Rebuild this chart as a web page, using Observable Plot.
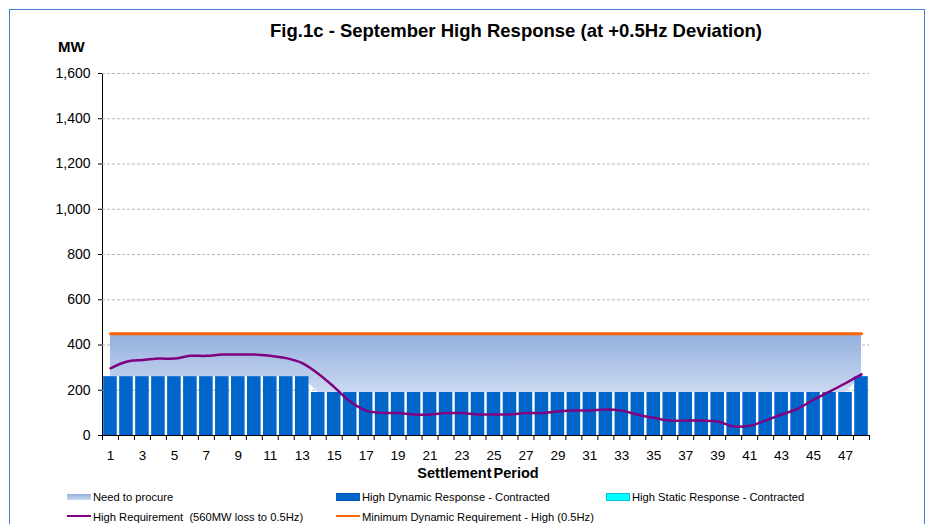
<!DOCTYPE html>
<html><head><meta charset="utf-8">
<script src="https://cdn.jsdelivr.net/npm/d3@7"></script>
<script src="https://cdn.jsdelivr.net/npm/@observablehq/plot@0.6"></script>
<style>
body{margin:0;background:#fff;font-family:"Liberation Sans",Arial,sans-serif;}
#wrap{position:relative;width:932px;height:524px;overflow:hidden;background:#fff;}
#wrap svg{position:absolute;left:0;top:0;}
#border{position:absolute;left:9px;top:9px;width:916px;height:540px;border:1.5px solid #3f7fd6;box-sizing:border-box;}
.t{position:absolute;white-space:nowrap;color:#000;line-height:1;}
#title{left:516px;top:22px;transform:translateX(-50%);font-weight:bold;font-size:18.5px;}
#unit{left:58px;top:39px;font-weight:bold;font-size:15px;}
#xlab{left:478px;top:466px;transform:translateX(-50%);font-weight:bold;font-size:14.5px;word-spacing:-2px;}
.lg{font-size:11.2px;}
.sw{position:absolute;}
</style>
</head><body>
<div id="wrap">
  <div id="border"></div>
</div>
<script>
// ---- data ----
const periods = d3.range(1, 49);
const dynamicContracted = [
  260,260,260,260,260,260,260,260,260,260,260,260,
  260,190,190,190,190,190,190,190,190,190,190,190,
  190,190,190,190,190,190,190,190,190,190,190,190,
  190,190,190,190,190,190,190,190,190,190,190,260];
const needToProcure = [
  190,190,190,190,190,190,190,190,190,190,190,190,
  190,260,260,260,260,260,260,260,260,260,260,260,
  260,260,260,260,260,260,260,260,260,260,260,260,
  260,260,260,260,260,260,260,260,260,260,260,190];
const staticContracted = [
  0,0,0,0,0,0,0,0,0,0,0,0,
  0,0,0,0,0,0,0,0,0,0,0,0,
  0,0,0,0,0,0,0,0,0,0,0,0,
  0,0,0,0,0,0,0,0,0,0,0,0];
const highRequirement = [
  297,326,334,340,340,352,352,358,358,358,352,342,
  320,273,214,150,110,100,99,93,93,99,99,93,
  93,93,99,99,106,110,110,115,110,92,78,66,
  66,66,62,40,43,66,93,118,158,194,231,270];
const minDynamic = [
  450,450,450,450,450,450,450,450,450,450,450,450,
  450,450,450,450,450,450,450,450,450,450,450,450,
  450,450,450,450,450,450,450,450,450,450,450,450,
  450,450,450,450,450,450,450,450,450,450,450,450];
const yTicks = [0,200,400,600,800,1000,1200,1400,1600];
const xLabels = [1,3,5,7,9,11,13,15,17,19,21,23,25,27,29,31,33,35,37,39,41,43,45,47];

const data = periods.map((p, i) => ({
  p, dyn: dynamicContracted[i], need: needToProcure[i], stat: staticContracted[i],
  req: highRequirement[i], min: minDynamic[i]
}));
const boundaries = [0, ...periods].map(p => p + 0.5);

const svg = Plot.plot({
  width: 932, height: 524,
  marginLeft: 102, marginRight: 63, marginTop: 73, marginBottom: 89,
  style: {fontFamily: '"Liberation Sans", Arial, sans-serif', fontSize: "14px", color: "#000", background: "transparent", overflow: "visible"},
  x: {domain: [0.5, 48.5], ticks: boundaries, tickFormat: () => "", tickSize: 5, line: true, label: null},
  y: {domain: [0, 1600], ticks: yTicks, tickFormat: d3.format(","), tickSize: 4, tickPadding: 8, line: true, label: null},
  marks: [
    Plot.ruleY(yTicks.filter(d => d > 0), {stroke: "#b8b8b8", strokeDasharray: "3,2", strokeWidth: 1}),
    Plot.areaY(data, {x: "p", y1: "dyn", y2: d => d.dyn + d.need, fill: "url(#needGrad)"}),
    Plot.rectY(data, {x1: d => d.p - 0.5, x2: d => d.p + 0.5, y: "dyn", fill: "#0066cc", insetLeft: 1.2, insetRight: 1.2}),
    Plot.rectY(data.filter(d => d.stat > 0), {x1: d => d.p - 0.5, x2: d => d.p + 0.5, y1: "dyn", y2: d => d.dyn + d.stat, fill: "#00ffff", insetLeft: 1.2, insetRight: 1.2}),
    Plot.line(data, {x: "p", y: "min", stroke: "#ff6600", strokeWidth: 3}),
    Plot.line(data, {x: "p", y: "req", stroke: "#800080", strokeWidth: 2.5, curve: "catmull-rom"}),
    Plot.text(xLabels, {x: d => d, y: 0, dy: 20, text: d => String(d), fontSize: 13.5})
  ]
});

const defs = d3.select(svg).insert("defs", ":first-child");
const g = defs.append("linearGradient").attr("id", "needGrad").attr("x1", 0).attr("y1", 0).attr("x2", 0).attr("y2", 1);
g.append("stop").attr("offset", "0%").attr("stop-color", "#93afde");
g.append("stop").attr("offset", "100%").attr("stop-color", "#cbd9f1");

const wrap = document.getElementById("wrap");
wrap.insertBefore(svg, wrap.firstChild);

function addText(id, cls, txt) {
  const d = document.createElement("div");
  if (id) d.id = id;
  d.className = cls;
  d.textContent = txt;
  wrap.appendChild(d);
  return d;
}
addText("title", "t", "Fig.1c - September High Response (at +0.5Hz Deviation)");
addText("unit", "t", "MW");
addText("xlab", "t", "Settlement Period");

const legend = [
  {label: "Need to procure", x: 67, y: 498, type: "grad"},
  {label: "High Dynamic Response - Contracted", x: 336, y: 498, type: "box", color: "#0066cc"},
  {label: "High Static Response - Contracted", x: 606, y: 498, type: "box", color: "#00ffff"},
  {label: "High Requirement  (560MW loss to 0.5Hz)", x: 67, y: 518, type: "line", color: "#800080"},
  {label: "Minimum Dynamic Requirement - High (0.5Hz)", x: 336, y: 518, type: "line", color: "#ff6600"}
];
legend.forEach(l => {
  const s = document.createElement("div");
  s.className = "sw";
  s.style.left = l.x + "px";
  s.style.width = "24px";
  if (l.type === "grad") {
    s.style.top = (l.y - 4) + "px"; s.style.height = "6px";
    s.style.background = "linear-gradient(#93afde,#cbd9f1)";
  } else if (l.type === "box") {
    s.style.top = (l.y - 5) + "px"; s.style.height = "8px";
    s.style.background = l.color;
    s.style.boxShadow = "inset 0 0 0 1px rgba(0,80,160,0.35)";
  } else {
    s.style.top = (l.y - 3) + "px"; s.style.height = "1.5px";
    s.style.background = l.color;
  }
  wrap.appendChild(s);
  const t = addText(null, "t lg", l.label);
  t.style.left = (l.x + 26) + "px";
  t.style.top = (l.y - 6) + "px";
  t.style.whiteSpace = "pre";
});
</script>
</body></html>
